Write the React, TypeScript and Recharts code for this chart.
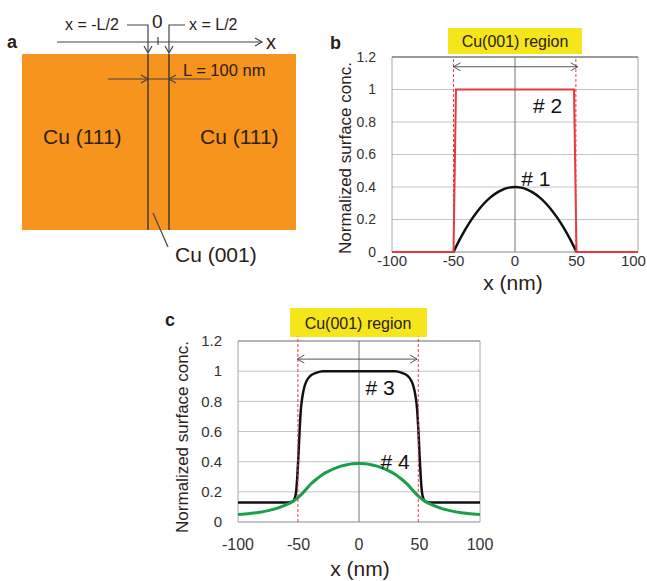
import React from 'react'
import { LineChart, Line, XAxis, YAxis, CartesianGrid, ReferenceLine, ReferenceDot } from 'recharts'

const FONT = '"Liberation Sans", Arial, sans-serif'

const xTicks = [-100, -50, 0, 50, 100]
const yTicks = [0, 0.2, 0.4, 0.6, 0.8, 1, 1.2]

// panel b
const c1X = [-50, -45, -40, -35, -30, -25, -20, -15, -10, -5, 0, 5, 10, 15, 20, 25, 30, 35, 40, 45, 50]
const c1Y = [0, 0.076, 0.144, 0.204, 0.256, 0.3, 0.336, 0.364, 0.384, 0.396, 0.4, 0.396, 0.384, 0.364, 0.336, 0.3, 0.256, 0.204, 0.144, 0.076, 0]
const c2X = [-100, -50, -48, 48, 50, 100]
const c2Y = [0, 0, 1, 1, 0, 0]

// panel c
const c3X = [-100, -60, -55, -53, -52, -51, -50, -49, -48, -47, -45, -43, -40, -35, -30, 0, 30, 35, 40, 43, 45, 47, 48, 49, 50, 51, 52, 53, 55, 60, 100]
const c3Y = [0.13, 0.13, 0.135, 0.16, 0.2, 0.3, 0.45, 0.62, 0.75, 0.82, 0.9, 0.94, 0.97, 0.99, 1, 1, 1, 0.99, 0.97, 0.94, 0.9, 0.82, 0.75, 0.62, 0.45, 0.3, 0.2, 0.16, 0.135, 0.13, 0.13]
const c4X = [-100, -90, -80, -70, -60, -55, -50, -45, -40, -35, -30, -25, -20, -15, -10, -5, 0, 5, 10, 15, 20, 25, 30, 35, 40, 45, 50, 55, 60, 70, 80, 90, 100]
const c4Y = [0.05, 0.056, 0.067, 0.085, 0.115, 0.135, 0.165, 0.205, 0.25, 0.285, 0.315, 0.337, 0.355, 0.37, 0.38, 0.386, 0.388, 0.386, 0.38, 0.37, 0.355, 0.337, 0.315, 0.285, 0.25, 0.205, 0.165, 0.135, 0.115, 0.085, 0.067, 0.056, 0.05]

const zip = (xs: number[], ys: number[]) => xs.map((x, i) => ({ x, y: ys[i] }))

const fmt = (v: number) => String(Math.round(v * 10) / 10)

const DoubleArrow = (p: any) => {
  const { x1, y1, x2, y2 } = p
  const h = 7
  return (
    <g stroke="#555" strokeWidth={1} fill="none">
      <line x1={x1} y1={y1} x2={x2} y2={y2} />
      <polyline points={`${x1 + h},${y1 - 4} ${x1},${y1} ${x1 + h},${y1 + 4}`} />
      <polyline points={`${x2 - h},${y2 - 4} ${x2},${y2} ${x2 - h},${y2 + 4}`} />
    </g>
  )
}

const tag = (txt: string) => (p: any) => (
  <text x={p.cx} y={p.cy} textAnchor="middle" dominantBaseline="central" fontSize={21} fill="#111" fontFamily={FONT}>
    {txt}
  </text>
)

// x tick that keeps the last label inside the chart box
const makeXTick = (fontSize: number, chartWidth: number) => (p: any) => {
  const label = String(p.payload.value)
  const half = label.length * fontSize * 0.28
  const x = Math.min(p.x, chartWidth - 1 - half)
  return (
    <text x={x} y={p.y} dy="0.71em" textAnchor="middle" fontSize={fontSize} fill="#333" fontFamily={FONT}>
      {label}
    </text>
  )
}

interface PanelProps {
  width: number
  height: number
  margin: { top: number; right: number; left: number; bottom: number }
  yAxisWidth: number
  xAxisHeight: number
  xTickMargin: number
  tickFont: number
  arrowY: number
  arrowFrom: number
  arrowTo: number
  dashTop: number
  dashL: number
  dashR: number
  topStroke: string
  children: React.ReactNode
}

function Panel(props: PanelProps) {
  return (
    <LineChart width={props.width} height={props.height} margin={props.margin}>
      <CartesianGrid vertical={false} stroke="#c4c4c4" />
      <XAxis
        type="number"
        dataKey="x"
        domain={[-100, 100]}
        ticks={xTicks}
        axisLine={false}
        tickLine={false}
        tickSize={0}
        tickMargin={props.xTickMargin}
        height={props.xAxisHeight}
        tick={makeXTick(props.tickFont + 1, props.width)}
        interval={0}
      />
      <YAxis
        type="number"
        domain={[0, 1.2]}
        ticks={yTicks}
        tickFormatter={fmt}
        axisLine={false}
        tickLine={false}
        tickSize={0}
        tickMargin={16}
        width={props.yAxisWidth}
        tick={{ fontSize: props.tickFont, fill: '#333', fontFamily: FONT }}
        interval={0}
      />
      <ReferenceLine x={-100} stroke="#a8a8a8" />
      <ReferenceLine x={100} stroke="#a8a8a8" />
      <ReferenceLine y={0} stroke="#a8a8a8" />
      <ReferenceLine y={1.2} stroke={props.topStroke} />
      <ReferenceLine x={0} stroke="#777" />
      {props.children}
      <ReferenceLine
        segment={[{ x: props.dashL, y: 0 }, { x: props.dashL, y: props.dashTop }]}
        stroke="#e0404e"
        strokeDasharray="3 2"
        ifOverflow="visible"
      />
      <ReferenceLine
        segment={[{ x: props.dashR, y: 0 }, { x: props.dashR, y: props.dashTop }]}
        stroke="#e0404e"
        strokeDasharray="3 2"
        ifOverflow="visible"
      />
      <ReferenceLine
        segment={[{ x: props.arrowFrom, y: props.arrowY }, { x: props.arrowTo, y: props.arrowY }]}
        ifOverflow="visible"
        shape={DoubleArrow}
      />
    </LineChart>
  )
}

const txt = { fontFamily: FONT, fill: '#2a2118' }

export default function App() {
  return (
    <div style={{ position: 'absolute', left: 0, top: 0, width: 647, height: 581, background: '#fff', fontFamily: FONT }}>
      <svg width={647} height={581} style={{ position: 'absolute', left: 0, top: 0 }}>
        {/* panel a */}
        <rect x={22} y={54} width={274} height={176} fill="#F7941D" />
        <line x1={148} y1={54} x2={148} y2={230} stroke="#4a3a2a" strokeWidth={1.5} />
        <line x1={169} y1={54} x2={169} y2={230} stroke="#4a3a2a" strokeWidth={1.5} />
        <g stroke="#444" strokeWidth={1.2} fill="none">
          <line x1={57} y1={42} x2={262} y2={42} />
          <polyline points="255,38 262,42 255,46" />
          <polyline points="127,25 148,25 148,53" />
          <polyline points="144,46 148,53 152,46" />
          <polyline points="185,25 169,25 169,53" />
          <polyline points="165,46 169,53 173,46" />
          <line x1={158} y1={37} x2={158} y2={45} />
          <line x1={108} y1={79} x2={211} y2={79} />
          <polyline points="141,75 148,79 141,83" />
          <polyline points="176,75 169,79 176,83" />
          <line x1={153} y1={213} x2={168} y2={247} />
        </g>
        <text x={7} y={48} fontSize={18} fontWeight="bold" {...txt}>a</text>
        <text x={266} y={49} fontSize={20} {...txt}>x</text>
        <text x={65} y={30} fontSize={16} {...txt}>x = -L/2</text>
        <text x={152} y={28} fontSize={19} {...txt}>0</text>
        <text x={189} y={30} fontSize={16} {...txt}>x = L/2</text>
        <text x={183} y={76} fontSize={16.5} {...txt}>L = 100 nm</text>
        <text x={43} y={144} fontSize={21} {...txt}>Cu (111)</text>
        <text x={200} y={144} fontSize={21} {...txt}>Cu (111)</text>
        <text x={175} y={262} fontSize={21} {...txt}>Cu (001)</text>

        {/* panel b decorations */}
        <text x={330} y={49} fontSize={18} fontWeight="bold" {...txt}>b</text>
        <rect x={448} y={28} width={134} height={26} fill="#F4E61A" />
        <text x={515} y={41} fontSize={16} textAnchor="middle" dominantBaseline="central" {...txt}>Cu(001) region</text>
        <text x={513} y={282} fontSize={21} textAnchor="middle" dominantBaseline="central" {...txt}>x (nm)</text>
        <text
          transform="translate(345,158) rotate(-90)"
          fontSize={17}
          textAnchor="middle"
          dominantBaseline="central"
          {...txt}
        >
          Normalized surface conc.
        </text>

        {/* panel c decorations */}
        <text x={165} y={326} fontSize={18} fontWeight="bold" {...txt}>c</text>
        <rect x={290} y={308} width={137} height={29} fill="#F4E61A" />
        <text x={358} y={323} fontSize={16} textAnchor="middle" dominantBaseline="central" {...txt}>Cu(001) region</text>
        <text x={360} y={568} fontSize={21} textAnchor="middle" dominantBaseline="central" {...txt}>x (nm)</text>
        <text
          transform="translate(182,437) rotate(-90)"
          fontSize={17}
          textAnchor="middle"
          dominantBaseline="central"
          {...txt}
        >
          Normalized surface conc.
        </text>
      </svg>

      <div style={{ position: 'absolute', left: 330, top: 40 }}>
        <Panel
          width={317}
          height={260}
          margin={{ top: 17, right: 9, left: 0, bottom: 0 }}
          yAxisWidth={62}
          xAxisHeight={48}
          xTickMargin={3}
          tickFont={14}
          arrowY={1.14}
          arrowFrom={-50}
          arrowTo={51}
          dashTop={1.2}
          dashL={-50}
          dashR={49.5}
          topStroke="#555"
        >
          <Line data={zip(c1X, c1Y)} dataKey="y" type="monotone" stroke="#111" strokeWidth={2.5} dot={false} isAnimationActive={false} />
          <Line data={zip(c2X, c2Y)} dataKey="y" type="linear" stroke="#e8383d" strokeWidth={2} dot={false} isAnimationActive={false} />
          <ReferenceDot x={26.6} y={0.9} r={0} shape={tag('# 2')} />
          <ReferenceDot x={17} y={0.45} r={0} shape={tag('# 1')} />
        </Panel>
      </div>

      <div style={{ position: 'absolute', left: 160, top: 320 }}>
        <Panel
          width={340}
          height={261}
          margin={{ top: 21, right: 20, left: 0, bottom: 0 }}
          yAxisWidth={78}
          xAxisHeight={59}
          xTickMargin={17}
          tickFont={15}
          arrowY={1.08}
          arrowFrom={-51}
          arrowTo={48}
          dashTop={1.23}
          dashL={-50.5}
          dashR={49}
          topStroke="#888"
        >
          <Line data={zip(c3X, c3Y)} dataKey="y" type="monotone" stroke="#111" strokeWidth={2.5} dot={false} isAnimationActive={false} />
          <Line data={zip(c4X, c4Y)} dataKey="y" type="monotone" stroke="#1a9e4a" strokeWidth={3} dot={false} isAnimationActive={false} />
          <ReferenceDot x={17.4} y={0.89} r={0} shape={tag('# 3')} />
          <ReferenceDot x={29.8} y={0.4} r={0} shape={tag('# 4')} />
        </Panel>
      </div>
    </div>
  )
}
